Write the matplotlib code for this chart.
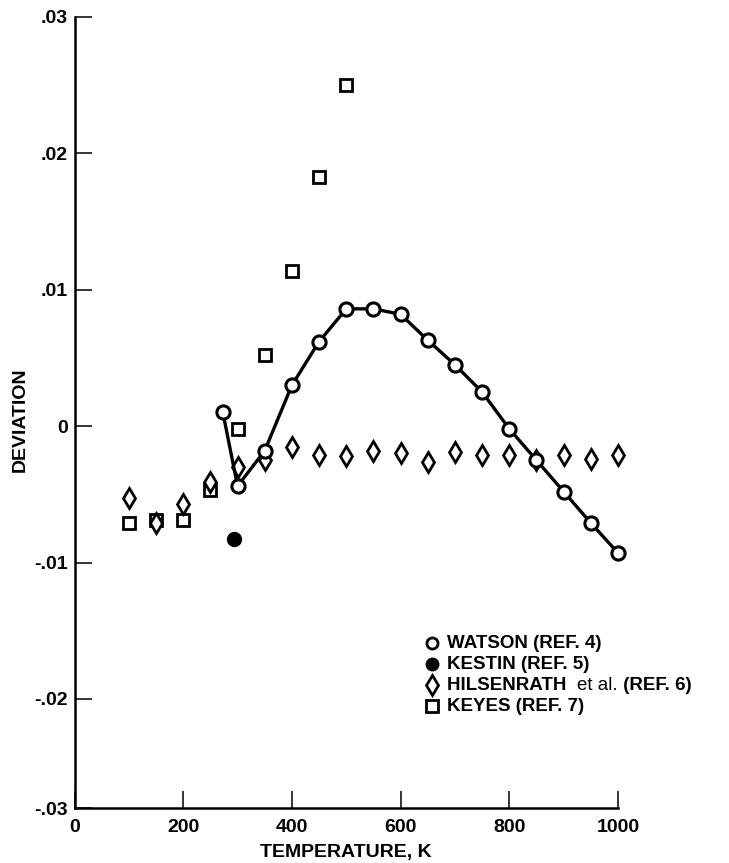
import matplotlib
matplotlib.use("Agg")
import matplotlib.pyplot as plt
from matplotlib.lines import Line2D

plt.rcParams['font.family'] = ['Liberation Sans', 'DejaVu Sans']

# ---- data ----
watson_T = [273, 300, 350, 400, 450, 500, 550, 600, 650, 700, 750, 800, 850, 900, 950, 1000]
watson_dev = [0.0010, -0.0044, -0.0018, 0.0030, 0.0062, 0.0086, 0.0086, 0.0082, 0.0063, 0.0045,
              0.0025, -0.0002, -0.0025, -0.0048, -0.0071, -0.0093]

kestin_T = [293]
kestin_dev = [-0.0083]

hilsen_T = [100, 150, 200, 250, 300, 350, 400, 450, 500, 550, 600, 650, 700, 750, 800, 850, 900, 950, 1000]
hilsen_dev = [-0.0053, -0.0071, -0.0057, -0.0041, -0.0030, -0.0025, -0.0015, -0.0021, -0.0022,
              -0.0018, -0.0020, -0.0026, -0.0019, -0.0021, -0.0021, -0.0025, -0.0021, -0.0024, -0.0021]

keyes_T = [100, 150, 200, 250, 300, 350, 400, 450, 500]
keyes_dev = [-0.0071, -0.0069, -0.0069, -0.0047, -0.0002, 0.0052, 0.0114, 0.0183, 0.0250]

xtick_vals = [0, 200, 400, 600, 800, 1000]
xtick_labels = ['0', '200', '400', '600', '800', '1000']
ytick_vals = [-0.028, -0.02, -0.01, 0.0, 0.01, 0.02, 0.03]
ytick_labels = ['-.03', '-.02', '-.01', '0', '.01', '.02', '.03']

# each legend label is split into (text, weight) pieces
legend_labels = [
    [('WATSON (REF. 4)', 'bold')],
    [('KESTIN (REF. 5)', 'bold')],
    [('HILSENRATH  ', 'bold'), ('et al.', 'normal'), (' (REF. 6)', 'bold')],
    [('KEYES (REF. 7)', 'bold')],
]

W, H = 729, 863

# ---- figure ----
fig = plt.figure(figsize=(W / 100, H / 100), dpi=100)
ax = fig.add_axes([74.5 / W, 1 - 808 / H, (618 - 74.5) / W, 791 / H])

keyes_style = dict(marker='s', markersize=8.5, markerfacecolor='white',
                   markeredgecolor='black', markeredgewidth=2.0)
hilsen_style = dict(marker='d', markersize=10.5, markerfacecolor='white',
                    markeredgecolor='black', markeredgewidth=2.0)
watson_style = dict(marker='o', markersize=9.5, markerfacecolor='white',
                    markeredgecolor='black', markeredgewidth=2.2)
kestin_style = dict(marker='o', markersize=10, markerfacecolor='black', markeredgecolor='black')

ax.plot(keyes_T, keyes_dev, linestyle='none', clip_on=False, zorder=3, **keyes_style)
ax.plot(hilsen_T, hilsen_dev, linestyle='none', clip_on=False, zorder=4, **hilsen_style)
ax.plot(watson_T, watson_dev, linestyle='-', color='black', linewidth=2.4,
        clip_on=False, zorder=5, **watson_style)
ax.plot(kestin_T, kestin_dev, linestyle='none', clip_on=False, zorder=5, **kestin_style)

ax.set_xlim(0, 1000)
ax.set_ylim(-0.028, 0.03)
ax.set_xticks(xtick_vals)
ax.set_xticklabels(xtick_labels)
ax.set_yticks(ytick_vals)
ax.set_yticklabels(ytick_labels)

for s in ['top', 'right']:
    ax.spines[s].set_visible(False)
for s in ['left', 'bottom']:
    ax.spines[s].set_linewidth(1.8)

ax.tick_params(axis='both', direction='in', length=12, width=1.1, labelsize=14)
ax.tick_params(axis='y', pad=5)
ax.tick_params(axis='x', pad=8)
for lab in ax.get_xticklabels() + ax.get_yticklabels():
    lab.set_fontweight('bold')

ax.set_xlabel('TEMPERATURE, K', fontsize=14, fontweight='bold')
ax.xaxis.set_label_coords(0.5, (808 - 852) / 791)
ax.xaxis.label.set_va('center')
ax.set_ylabel('DEVIATION', fontsize=14, fontweight='bold')
ax.yaxis.set_label_coords((20 - 74.5) / 543.5, (808 - 420) / 791)
ax.yaxis.label.set_va('center')

# ---- legend (drawn as key rows) ----
legend_styles = [
    dict(marker='o', markersize=8, markerfacecolor='white', markeredgecolor='black', markeredgewidth=2.0),
    dict(marker='o', markersize=9, markerfacecolor='black', markeredgecolor='black'),
    dict(marker='d', markersize=10, markerfacecolor='white', markeredgecolor='black', markeredgewidth=2.0),
    dict(marker='s', markersize=8, markerfacecolor='white', markeredgecolor='black', markeredgewidth=2.0),
]
row_y = [643, 664, 685, 706]
renderer = fig.canvas.get_renderer()
for pieces, st, yy in zip(legend_labels, legend_styles, row_y):
    fy = 1 - yy / H
    fig.add_artist(Line2D([431.5 / W], [fy], linestyle='none', transform=fig.transFigure, **st))
    x_px = 447.0
    for txt, wt in pieces:
        t = fig.text(x_px / W, fy, txt, fontsize=13.5, fontweight=wt, va='center', ha='left')
        bb = t.get_window_extent(renderer=renderer)
        x_px += bb.width

fig.savefig('out.png', dpi=100)
